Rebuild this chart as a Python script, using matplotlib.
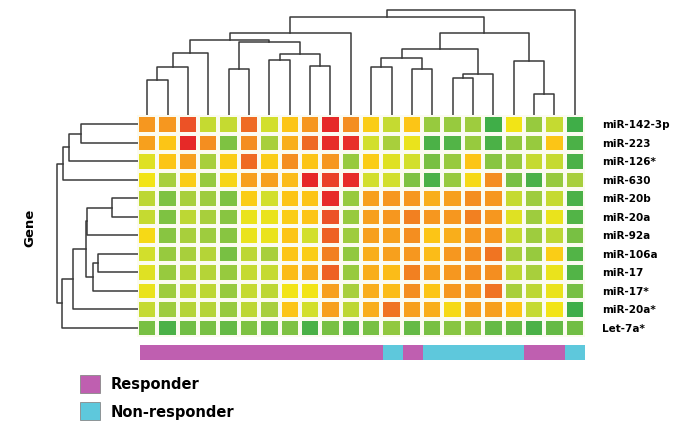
import numpy as np
import matplotlib
matplotlib.use("Agg")
import matplotlib.pyplot as plt
from matplotlib.colors import LinearSegmentedColormap, ListedColormap
from matplotlib.patches import Rectangle

# --- data ---
genes = ['miR-142-3p', 'miR-223', 'miR-126*', 'miR-630', 'miR-20b', 'miR-20a',
         'miR-92a', 'miR-106a', 'miR-17', 'miR-17*', 'miR-20a*', 'Let-7a*']

# relative expression, 0 = low (green) .. 1 = high (red)
expr = [
    [0.70, 0.70, 0.85, 0.42, 0.42, 0.80, 0.45, 0.60, 0.70, 0.95, 0.72, 0.58, 0.42, 0.60, 0.30, 0.30, 0.32, 0.05, 0.52, 0.30, 0.42, 0.05],
    [0.68, 0.60, 0.95, 0.72, 0.22, 0.72, 0.35, 0.65, 0.80, 0.93, 0.92, 0.45, 0.35, 0.50, 0.08, 0.10, 0.30, 0.08, 0.28, 0.30, 0.60, 0.08],
    [0.48, 0.60, 0.68, 0.35, 0.58, 0.80, 0.58, 0.72, 0.60, 0.70, 0.30, 0.58, 0.48, 0.45, 0.20, 0.30, 0.60, 0.25, 0.30, 0.42, 0.42, 0.08],
    [0.52, 0.35, 0.58, 0.30, 0.56, 0.68, 0.68, 0.62, 0.95, 0.88, 0.93, 0.45, 0.45, 0.22, 0.08, 0.30, 0.55, 0.72, 0.20, 0.08, 0.30, 0.35],
    [0.40, 0.22, 0.35, 0.32, 0.22, 0.58, 0.45, 0.60, 0.60, 0.93, 0.30, 0.68, 0.70, 0.70, 0.65, 0.68, 0.72, 0.70, 0.42, 0.32, 0.42, 0.08],
    [0.42, 0.22, 0.40, 0.35, 0.25, 0.50, 0.50, 0.58, 0.60, 0.85, 0.30, 0.68, 0.70, 0.75, 0.70, 0.70, 0.75, 0.70, 0.48, 0.32, 0.50, 0.10],
    [0.55, 0.25, 0.35, 0.32, 0.25, 0.50, 0.50, 0.60, 0.45, 0.82, 0.32, 0.68, 0.68, 0.72, 0.60, 0.65, 0.70, 0.70, 0.42, 0.32, 0.40, 0.20],
    [0.45, 0.30, 0.35, 0.38, 0.20, 0.40, 0.35, 0.60, 0.58, 0.75, 0.28, 0.65, 0.68, 0.70, 0.62, 0.70, 0.72, 0.78, 0.35, 0.30, 0.58, 0.10],
    [0.48, 0.30, 0.38, 0.38, 0.30, 0.42, 0.42, 0.62, 0.65, 0.82, 0.30, 0.65, 0.62, 0.75, 0.68, 0.70, 0.72, 0.72, 0.40, 0.35, 0.50, 0.10],
    [0.50, 0.32, 0.40, 0.40, 0.30, 0.42, 0.40, 0.52, 0.52, 0.68, 0.35, 0.65, 0.62, 0.72, 0.60, 0.70, 0.70, 0.78, 0.35, 0.40, 0.50, 0.20],
    [0.42, 0.32, 0.38, 0.38, 0.30, 0.40, 0.35, 0.60, 0.45, 0.68, 0.40, 0.65, 0.78, 0.68, 0.65, 0.55, 0.68, 0.68, 0.60, 0.42, 0.52, 0.05],
    [0.20, 0.08, 0.18, 0.20, 0.15, 0.22, 0.18, 0.22, 0.08, 0.20, 0.15, 0.20, 0.28, 0.15, 0.20, 0.25, 0.25, 0.15, 0.15, 0.08, 0.15, 0.18],
]

# sample group: 1 = responder, 0 = non-responder
groups = [1]*12 + [0] + [1] + [0]*5 + [1]*2 + [0]
group_names = ['Responder', 'Non-responder']

# linkage (left, right, height); new node ids continue after the leaves
col_links = [(0, 1, 35), (22, 2, 48), (23, 3, 62), (4, 5, 46), (6, 7, 55),
             (8, 9, 49), (26, 27, 61), (25, 28, 73), (24, 29, 75), (30, 10, 82),
             (11, 12, 48), (13, 14, 46), (15, 16, 37), (34, 17, 41), (32, 33, 57),
             (36, 35, 66), (19, 20, 21), (18, 38, 54), (37, 39, 82), (31, 40, 98),
             (41, 21, 105)]
row_links = [(0, 1, 57), (12, 2, 69), (13, 3, 75), (4, 5, 26), (7, 8, 40),
             (16, 9, 45), (15, 6, 51), (18, 17, 52), (19, 10, 65), (20, 11, 76),
             (14, 21, 81)]

expr = np.array(expr)
nrow, ncol = expr.shape

cmap = LinearSegmentedColormap.from_list('rg', [
    (0.00, '#2ea84a'), (0.20, '#78c043'), (0.35, '#a8cf3c'), (0.45, '#d2df2c'),
    (0.52, '#f2e516'), (0.60, '#fcc516'), (0.70, '#f6981f'), (0.80, '#ef6b23'),
    (0.92, '#e8302a'), (1.00, '#e21f26')])

W, H = 683, 429
fig = plt.figure(figsize=(W/100, H/100), dpi=100)

def px_axes(x0, y0, x1, y1):
    return fig.add_axes([x0/W, 1 - y1/H, (x1-x0)/W, (y1-y0)/H])

def draw_dendro(ax, links, n, orient):
    pos = {i: i + 0.5 for i in range(n)}
    hgt = {i: 0.0 for i in range(n)}
    for k, (a, b, h) in enumerate(links):
        xa, xb = pos[a], pos[b]
        if orient == 'top':
            ax.plot([xa, xa, xb, xb], [hgt[a], h, h, hgt[b]], color='#3a3a3a', lw=1.1)
        else:
            ax.plot([hgt[a], h, h, hgt[b]], [xa, xa, xb, xb], color='#3a3a3a', lw=1.1)
        pos[n + k] = (xa + xb) / 2
        hgt[n + k] = h
    ax.axis('off')

# heatmap
ax = px_axes(137, 115, 585, 337)
ax.pcolormesh(expr, cmap=cmap, vmin=0, vmax=1, edgecolors='#fbfbf0', linewidth=1.6)
ax.set_xlim(0, ncol)
ax.set_ylim(nrow, 0)
ax.set_xticks([])
ax.yaxis.tick_right()
ax.set_yticks(np.arange(nrow) + 0.5)
ax.set_yticklabels(genes, fontsize=7.5, fontweight='bold')
ax.tick_params(axis='y', length=0, pad=12)
for s in ax.spines.values():
    s.set_visible(False)

# column dendrogram
axc = px_axes(137, 0, 585, 115)
draw_dendro(axc, col_links, ncol, 'top')
axc.set_xlim(0, ncol)
axc.set_ylim(0, 115)

# row dendrogram
axr = px_axes(0, 115, 138, 337)
draw_dendro(axr, row_links, nrow, 'left')
axr.set_xlim(138, 0)
axr.set_ylim(nrow, 0)

# group bar
grp_colors = ['#5ec8dc', '#bf5fb0']
axg = px_axes(140, 345, 585, 360)
axg.pcolormesh(np.array([groups]), cmap=ListedColormap(grp_colors), vmin=0, vmax=1)
axg.set_xlim(0, ncol)
axg.axis('off')

fig.text(30/W, 1 - 228/H, 'Gene', rotation=90, fontsize=9.5, fontweight='bold',
         ha='center', va='center')

# legend
for i, (name, c) in enumerate(zip(group_names, [grp_colors[1], grp_colors[0]])):
    y = 375 + i * 27
    fig.patches.append(Rectangle((80/W, 1 - (y + 18)/H), 20/W, 18/H, transform=fig.transFigure,
                                 facecolor=c, edgecolor='#888888', lw=0.6))
    fig.text(111/W, 1 - (y + 10)/H, name, fontsize=10.5, fontweight='bold', va='center')

fig.savefig('out.png', dpi=100)
